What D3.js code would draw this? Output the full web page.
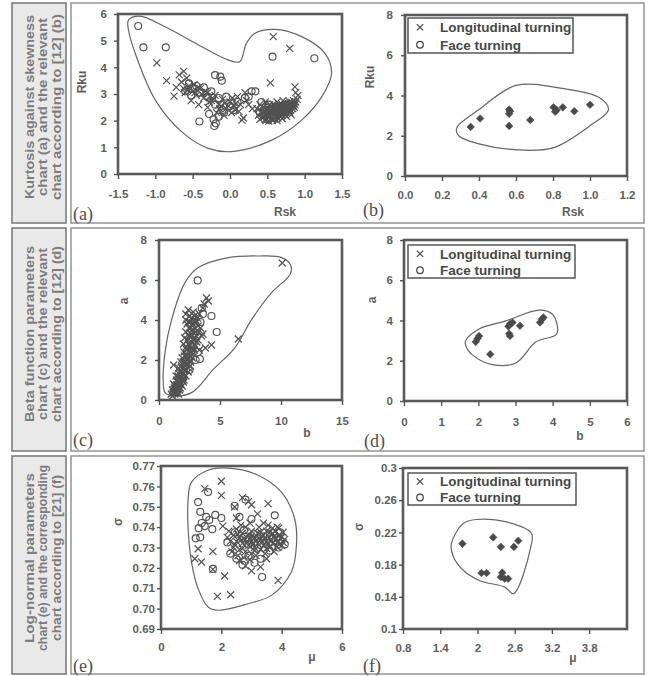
<!DOCTYPE html>
<html><head><meta charset="utf-8">
<script src="https://cdn.jsdelivr.net/npm/d3@7"></script>
<style>
body{margin:0;background:#fff;}
svg{display:block;font-family:"Liberation Sans",Arial,sans-serif;}
</style></head><body>
<svg id="c" width="648" height="676"></svg>
<script>
// ---------- DATA ----------
const rowLabels = [
  ["Kurtosis against skewness","chart (a) and the relevant","chart according to [12] (b)"],
  ["Beta function parameters","chart (c) and the relevant","chart according to [12] (d)"],
  ["Log-normal parameters","chart (e)  and the corresponding","chart according to [21] (f)"]
];
const legendLabels = ["Longitudinal turning","Face turning"];

// (a) Rsk, Rku
const aCross = [[0.58,5.15],[0.80,4.71],[-0.98,4.17],[0.54,3.42],[0.87,3.27],[0.91,2.95],[0.88,3.05],
 [-0.85,3.5],[-0.62,3.85],[-0.68,3.72],[-0.58,3.6],[-0.75,2.92],[-0.72,3.25],[-0.55,3.3],[-0.5,3.1],[-0.45,2.95],[-0.4,3.2],[-0.35,2.85],[-0.3,3.05],[-0.25,2.75],[-0.2,2.95],[-0.15,2.6],[-0.1,2.8],[-0.05,2.45],[0.0,2.7],[0.05,2.55],[0.1,2.9],[0.12,2.35],[0.18,2.1],[0.2,3.05],[0.25,2.6],[0.16,2.02],[-0.52,2.75],[-0.42,2.6],[-0.3,2.5],[-0.18,2.3],[-0.08,2.2],[0.02,2.3],[-0.6,3.05],[-0.48,3.35],[-0.38,3.0],[-0.28,2.7],[-0.12,2.55],[0.08,2.65],[0.3,2.45],[-0.62,3.2],[-0.65,3.45],
 [-0.57,3.15],[-0.47,3.05],[-0.43,3.25],[-0.33,3.1],[-0.27,2.9],[-0.22,2.8],[-0.07,2.65],[0.03,2.85],[0.07,2.4],[0.14,2.6],[-0.02,2.55],[-0.14,2.45],[0.22,2.75],
 [0.38,2.2],[0.4,2.05],[0.42,2.35],[0.45,2.5],[0.46,2.15],[0.48,2.0],[0.5,2.4],[0.52,2.25],[0.53,2.6],[0.55,2.1],[0.56,2.45],[0.58,2.3],[0.6,2.55],[0.6,2.15],[0.62,2.4],[0.63,2.7],[0.65,2.25],[0.66,2.5],[0.68,2.35],[0.7,2.6],[0.7,2.2],[0.72,2.45],[0.74,2.65],[0.75,2.3],[0.77,2.55],[0.78,2.4],[0.8,2.7],[0.8,2.5],[0.82,2.6],[0.84,2.45],[0.85,2.75],[0.87,2.6],[0.9,2.8],[0.44,2.3],[0.5,2.15],[0.54,2.35],[0.57,2.0],[0.61,2.3],[0.64,2.1],[0.67,2.6],[0.69,2.45],[0.73,2.3],[0.76,2.5],[0.79,2.35],[0.83,2.55],[0.36,2.45],[0.4,2.6],[0.47,2.7],[0.52,1.98],[0.58,2.62],[0.65,2.4],[0.71,2.75],[0.78,2.65],[0.86,2.5],[0.5,2.5],[0.55,2.55],[0.62,2.2],[0.68,2.15],[0.74,2.4],[0.8,2.3],
 [0.46,2.35],[0.49,2.28],[0.51,2.45],[0.53,2.18],[0.55,2.3],[0.57,2.42],[0.59,2.22],[0.61,2.48],[0.63,2.32],[0.64,2.55],[0.66,2.18],[0.67,2.42],[0.69,2.28],[0.71,2.52],[0.72,2.36],[0.74,2.22],[0.75,2.58],[0.77,2.45],[0.79,2.62],[0.81,2.4],[0.83,2.68],[0.85,2.55],[0.43,2.12],[0.47,2.05],[0.59,2.05],[0.63,2.0],[0.7,2.08],[0.76,2.15],[0.82,2.22],[0.88,2.7]];
const aCircle = [[-1.23,5.55],[-1.16,4.75],[-0.86,4.75],[0.57,4.4],[1.13,4.34],[-0.2,3.71],[-0.13,3.65],[-0.11,3.5],[0.29,3.1],[0.34,3.1],[-0.41,1.97],[-0.21,1.8],[-0.19,1.9],
 [-0.55,3.4],[-0.5,3.2],[-0.45,3.3],[-0.4,3.05],[-0.35,3.25],[-0.3,2.9],[-0.25,3.1],[-0.6,3.1],[-0.52,2.95],[-0.2,2.6],[-0.15,2.85],[-0.1,2.4],[-0.05,2.9],[0.0,2.55],[0.1,2.7],[0.2,2.85],[-0.28,2.25],[-0.22,2.05],[-0.15,2.15],[-0.08,2.3],[0.05,2.4],[0.25,2.9],[0.42,2.7],[0.48,2.2],[0.55,2.4],[0.62,2.5],[0.7,2.35],[0.75,2.6],[0.8,2.45],[0.6,2.1],[0.52,2.6],[0.66,2.3],[0.72,2.5],
 [0.45,2.4],[0.58,2.25],[0.68,2.55],[0.78,2.55],[0.85,2.6],[0.5,2.05],[0.4,2.3]];
const aHull = [[-1.36,5.77],[-1.21,5.92],[-0.87,5.52],[-0.42,4.84],[-0.02,4.27],[0.13,4.21],[0.22,4.9],[0.33,5.27],[0.60,5.42],[0.96,5.15],[1.27,4.53],[1.36,3.78],[1.23,2.90],[0.96,2.02],[0.56,1.27],[0.02,0.84],[-0.29,0.96],[-0.65,1.59],[-1.0,2.77],[-1.27,4.53],[-1.36,5.4]];

// (b)
const bDiamond = [[0.355,2.44],[0.406,2.86],[0.563,2.49],[0.563,3.30],[0.563,3.09],[0.568,3.22],[0.677,2.78],[0.803,3.41],[0.812,3.19],[0.82,3.28],[0.853,3.41],[0.915,3.22],[1.0,3.54]];
const bHull = [[0.28,2.4],[0.4,3.3],[0.6,4.5],[0.85,4.35],[1.05,3.9],[1.1,3.3],[1.0,2.5],[0.8,1.4],[0.6,1.3],[0.4,1.6],[0.29,2.0]];

// (c) b, a
const cCross = [[10.1,6.85],[6.5,3.05],[3.9,5.1],[4.05,4.95],[3.7,4.8],[4.3,2.75],[3.8,2.6],[1.2,1.75],[3.6,4.6],[2.4,4.5],[2.2,4.3],
 [1.0,0.3],[1.1,0.5],[1.2,0.4],[1.3,0.7],[1.4,0.55],[1.5,0.9],[1.5,0.4],[1.6,1.1],[1.6,0.7],[1.7,0.9],[1.7,1.4],[1.8,1.2],[1.8,0.8],[1.9,1.6],[1.9,1.0],[2.0,1.3],[2.0,1.9],[2.1,1.5],[2.1,2.2],[2.2,1.8],[2.2,1.2],[2.3,2.5],[2.3,2.0],[2.4,1.6],[2.4,2.8],[2.5,2.2],[2.5,3.2],[2.6,2.6],[2.6,1.9],[2.7,3.5],[2.7,2.9],[2.8,2.3],[2.8,3.8],[2.9,3.1],[2.9,4.2],[3.0,3.4],[3.0,2.7],[3.1,3.9],[3.2,3.0],[3.3,4.3],[3.4,3.6],[3.5,3.2],[1.3,0.3],[1.1,0.2],[1.45,1.0],[1.65,1.3],[1.85,1.45],[2.05,2.4],[2.15,2.6],[2.35,3.0],[2.45,3.6],[2.55,3.9],[2.65,4.1],[2.2,3.4],[2.3,3.8],[2.0,2.8],[2.1,3.1],[2.6,2.4],[2.75,2.1],[2.9,2.5],[3.1,2.9],[3.3,2.5],[3.6,3.3],[3.2,3.7],[2.4,1.4],[1.9,2.1],[2.2,4.0],[2.8,4.4],[3.0,4.0],[1.2,0.8],[1.4,1.2],[1.6,1.6],[1.8,1.9],
 [1.15,0.35],[1.25,0.6],[1.35,0.45],[1.45,0.75],[1.55,1.2],[1.55,0.5],[1.65,0.85],[1.75,1.15],[1.75,0.6],[1.85,1.7],[1.95,1.25],[2.05,1.6],[2.05,1.0],[2.15,1.9],[2.25,2.2],[2.25,1.5],[2.35,2.6],[2.35,1.8],[2.45,2.1],[2.45,3.2],[2.55,2.7],[2.55,1.7],[2.65,3.3],[2.65,2.2],[2.75,3.7],[2.75,2.6],[2.85,3.0],[2.85,4.0],[2.95,3.6],[3.05,3.2],[3.15,4.1],[3.25,3.4],[2.5,4.2],[2.6,3.6],[2.4,3.9],[1.7,0.5],[1.4,0.35],[1.9,0.7],[2.0,0.9],[1.6,0.3]];
const cCircle = [[3.17,5.98],[4.3,4.2],[4.73,3.4],[3.35,2.05],[3.6,4.3],[2.8,3.3],[3.0,2.0],[2.5,1.5],[1.5,0.6],[1.8,1.0],[2.2,1.7],[3.4,3.9],[2.7,2.7],[3.2,2.4],[1.3,0.5],[2.0,1.1],[2.6,3.0],[3.5,4.6]];
const cHull = [[0.49,0.37],[1.04,0.23],[2.68,0.37],[4.45,1.53],[6.23,2.62],[7.6,4.03],[9.23,5.37],[10.74,6.28],[10.82,6.7],[10.06,7.12],[8.14,7.2],[5.68,7.12],[3.22,6.62],[2.13,5.87],[1.04,4.03],[0.49,2.37],[0.35,0.87]];

// (d)
const dDiamond = [[1.93,2.94],[1.98,3.1],[2.02,3.23],[2.32,2.32],[2.81,3.71],[2.85,3.82],[2.92,3.9],[2.83,3.34],[2.85,3.23],[3.12,3.74],[3.66,3.9],[3.71,4.06],[3.75,4.15]];
const dHull = [[1.66,3.0],[2.02,3.58],[2.74,3.98],[3.64,4.52],[4.0,4.3],[4.11,3.34],[3.55,2.94],[3.01,1.89],[2.38,1.81],[1.84,2.29],[1.66,2.76]];

// (e) mu, sigma
const eCross = [[2.0,0.7625],[2.0,0.7556],[1.45,0.7589],[3.55,0.7515],[2.44,0.7499],[1.72,0.7281],[1.23,0.7294],[1.12,0.7245],[1.34,0.7229],[1.72,0.7193],[2.11,0.716],[1.87,0.706],[2.31,0.7068],[3.88,0.7139],[2.7,0.7545],[2.9,0.7525],[3.0,0.751],[2.05,0.7405],[2.25,0.738],[2.5,0.7445],[3.2,0.7465],[3.4,0.742],[2.6,0.7235],[2.8,0.721],[3.0,0.7185],[3.3,0.7205],[3.5,0.7245],
 [2.3,0.733],[2.4,0.736],[2.4,0.73],[2.5,0.739],[2.5,0.733],[2.6,0.735],[2.6,0.729],[2.7,0.737],[2.7,0.732],[2.8,0.74],[2.8,0.734],[2.8,0.728],[2.9,0.736],[2.9,0.731],[3.0,0.738],[3.0,0.733],[3.0,0.727],[3.1,0.735],[3.1,0.73],[3.2,0.737],[3.2,0.732],[3.3,0.734],[3.3,0.729],[3.4,0.736],[3.4,0.731],[3.5,0.738],[3.5,0.733],[3.6,0.735],[3.6,0.73],[3.7,0.737],[3.7,0.732],[3.8,0.734],[3.8,0.738],[3.9,0.733],[3.9,0.736],[4.0,0.735],[4.0,0.731],[4.1,0.734],[2.2,0.735],[2.35,0.728],[2.55,0.726],[2.75,0.725],[2.95,0.724],[3.15,0.726],[2.65,0.741],[2.95,0.742],[3.25,0.74],[3.55,0.741],[3.85,0.74],[3.75,0.728],[3.45,0.727],
 [2.65,0.7335],[2.75,0.7345],[2.85,0.7325],[2.95,0.7345],[3.05,0.7315],[3.15,0.7335],[3.25,0.7345],[3.35,0.7325],[3.45,0.7345],[3.55,0.7315],[3.65,0.7335],[3.75,0.7355],[3.85,0.7325],[3.95,0.7345],[4.05,0.7325],[3.6,0.7375],[3.3,0.7375],[3.0,0.7355],[2.7,0.7295],[3.1,0.7285],[3.5,0.7295],[3.85,0.7305],[4.05,0.7375],[2.45,0.7315],[2.55,0.7365],[3.9,0.7395],[3.7,0.7395]];
const eCircle = [[1.56,0.7572],[1.23,0.7523],[3.77,0.7458],[3.35,0.7155],[2.44,0.7505],[2.8,0.7535],[1.3,0.7475],[1.5,0.745],[1.35,0.742],[1.6,0.7435],[1.8,0.746],[2.0,0.7445],[1.25,0.7395],[1.45,0.7405],[1.7,0.739],[1.15,0.7345],[1.3,0.735],[1.72,0.7195],[2.3,0.727],[2.5,0.7245],[2.7,0.7215],[2.9,0.726],[3.1,0.7225],[3.3,0.7245],[3.6,0.7285],[3.9,0.73],[4.1,0.7315],[2.6,0.745],[3.0,0.744],[2.2,0.7325],[2.45,0.7375],[2.75,0.7385],[3.1,0.7365],[3.4,0.7355],[3.7,0.7345],[3.95,0.7375],[2.9,0.7315],[3.2,0.7295]];
const eHull = [[1.01,0.7621],[1.56,0.7679],[2.22,0.769],[3.11,0.7662],[3.99,0.7572],[4.43,0.7441],[4.49,0.7311],[4.32,0.718],[3.66,0.7065],[2.89,0.7024],[1.89,0.6992],[1.56,0.7008],[1.23,0.7098],[1.01,0.7229],[0.90,0.7392],[0.90,0.7539]];

// (f)
const fDiamond = [[1.758,0.206],[2.065,0.1696],[2.146,0.1696],[2.253,0.2138],[2.377,0.202],[2.40,0.17],[2.377,0.1646],[2.44,0.1625],[2.495,0.1625],[2.587,0.202],[2.657,0.2096]];
const fHull = [[1.58,0.206],[1.77,0.231],[1.98,0.236],[2.47,0.233],[2.87,0.219],[2.86,0.202],[2.58,0.144],[2.44,0.152],[2.04,0.160],[1.77,0.173],[1.61,0.19]];

// ticks
const aXTicks=[-1.5,-1.0,-0.5,0.0,0.5,1.0,1.5], aYTicks=[0,1,2,3,4,5,6];
const bXTicks=[0,0.2,0.4,0.6,0.8,1.0,1.2], bYTicks=[0,2,4,6,8];
const cXTicks=[0,5,10,15], cYTicks=[0,2,4,6,8];
const dXTicks=[0,1,2,3,4,5,6], dYTicks=[0,2,4,6,8];
const eXTicks=[0,2,4,6], eYTicks=[0.69,0.70,0.71,0.72,0.73,0.74,0.75,0.76,0.77];
const fXTicks=[0.8,1.4,2,2.6,3.2,3.8], fYTicks=[0.1,0.14,0.18,0.22,0.26,0.3];

// ---------- DRAW ----------
const svg = d3.select("#c");
const ink = "#525252";
const txt = "#5e5e5e";
const f1 = v => v.toFixed(1);
const f2 = v => v.toFixed(2);
const fs = v => String(v);

const rows=[[3,223],[228,451],[456,674]];
rows.forEach(r=>{
  svg.append("rect").attr("x",12).attr("y",r[0]).attr("width",54).attr("height",r[1]-r[0])
    .attr("fill","#e9e9e9").attr("stroke","#7c7c7c").attr("stroke-width",1.6);
  svg.append("rect").attr("x",71).attr("y",r[0]).attr("width",573).attr("height",r[1]-r[0])
    .attr("fill","#fff").attr("stroke","#8c8c8c").attr("stroke-width",1.4);
});
const rowCenters=[107,334,558], colX=[29,42.5,56];
const rowLens=[[184,178,186],[176,172,176],[170,186,166]];
rowLabels.forEach((lines,i)=>lines.forEach((t,j)=>{
  svg.append("text").attr("transform",`translate(${colX[j]},${rowCenters[i]}) rotate(-90)`)
    .attr("text-anchor","middle").attr("dy","0.36em").attr("font-weight","bold")
    .attr("font-size",13.5).attr("fill","#7d7d7d")
    .attr("textLength",rowLens[i][j]).attr("lengthAdjust","spacingAndGlyphs").text(t);
}));

function marker(g, pts, x, y, type){
  const sel = g.append("g").selectAll("path").data(pts).join("path")
    .attr("transform",d=>`translate(${x(d[0])},${y(d[1])})`);
  if(type==="x") sel.attr("d","M-3.5,-3.5L3.5,3.5M-3.5,3.5L3.5,-3.5").attr("stroke",ink).attr("stroke-width",1.2).attr("fill","none");
  else if(type==="o") sel.attr("d",d3.arc()({innerRadius:0,outerRadius:3.5,startAngle:0,endAngle:2*Math.PI})).attr("stroke",ink).attr("stroke-width",1.15).attr("fill","none");
  else sel.attr("d","M0,-3.8L3.8,0L0,3.8L-3.8,0Z").attr("fill","#4a4a4a").attr("stroke","#4a4a4a").attr("stroke-width",0.6);
}

function panel(p){
  const x=d3.scaleLinear().domain(p.xd).range([p.l,p.r]);
  const y=d3.scaleLinear().domain(p.yd).range([p.b,p.t]);
  const g=svg.append("g");
  g.append("path").datum(p.hull)
    .attr("d",d3.line().x(d=>x(d[0])).y(d=>y(d[1])).curve(d3.curveCatmullRomClosed.alpha(0.5)))
    .attr("fill","none").attr("stroke","#666").attr("stroke-width",1.2);
  (p.sets||[]).forEach(s=>marker(g,s[0],x,y,s[1]));
  g.append("rect").attr("x",p.l).attr("y",p.t).attr("width",p.r-p.l).attr("height",p.b-p.t)
    .attr("fill","none").attr("stroke","#5a5a5a").attr("stroke-width",2.6);
  const xa=g.append("g").attr("transform",`translate(0,${p.b})`)
    .call(d3.axisBottom(x).tickValues(p.xt).tickFormat(p.xf).tickSize(5).tickSizeOuter(0).tickPadding(p.xpad));
  const ya=g.append("g").attr("transform",`translate(${p.l},0)`)
    .call(d3.axisLeft(y).tickValues(p.yt).tickFormat(p.yf).tickSize(4).tickSizeOuter(0).tickPadding(p.ypad));
  [xa,ya].forEach(a=>{
    a.select(".domain").remove();
    a.selectAll("line").attr("stroke",ink).attr("stroke-width",1.4);
    a.selectAll("text").attr("fill",txt).attr("font-weight","bold").attr("font-size",11.5)
      .attr("font-family","'Liberation Sans',Arial,sans-serif");
  });
  g.append("text").attr("x",p.xl[0]).attr("y",p.xl[1]).attr("text-anchor","middle")
    .attr("font-weight","bold").attr("font-size",12).attr("fill",txt).text(p.xlab);
  g.append("text").attr("transform",`translate(${p.yl[0]},${p.yl[1]}) rotate(-90)`).attr("text-anchor","middle")
    .attr("dy","0.35em").attr("font-weight","bold").attr("font-size",12).attr("fill",txt).text(p.ylab);
  g.append("text").attr("x",p.tag[0]).attr("y",p.tag[1]).attr("font-family","'Liberation Serif','Times New Roman',serif")
    .attr("font-size",18).attr("fill","#4e4e4e").text(p.tagText);
  if(p.legend){
    const L=p.legend;
    g.append("rect").attr("x",L[0]).attr("y",L[1]).attr("width",L[2]).attr("height",L[3])
      .attr("fill","#fff").attr("stroke","#555").attr("stroke-width",1.5);
    const lh=L[3]/2;
    legendLabels.forEach((t,i)=>{
      const cy=L[1]+lh*(i+0.5)+0.5;
      g.append("path").attr("transform",`translate(${L[0]+12},${cy})`)
        .attr("d",i===0?"M-3.2,-3.2L3.2,3.2M-3.2,3.2L3.2,-3.2":d3.arc()({innerRadius:0,outerRadius:3.3,startAngle:0,endAngle:2*Math.PI}))
        .attr("fill","none").attr("stroke","#444").attr("stroke-width",1.2);
      g.append("text").attr("x",L[0]+32).attr("y",cy).attr("dy","0.36em").attr("font-weight","bold")
        .attr("font-size",13.5).attr("fill","#474747").text(t);
    });
  }
}

panel({l:118,r:342,t:14,b:174,xd:[-1.5,1.5],yd:[0,6],xt:aXTicks,yt:aYTicks,xf:f1,yf:fs,xpad:11,ypad:7,
  hull:aHull,sets:[[aCircle,"o"],[aCross,"x"]],xlab:"Rsk",xl:[285,216],ylab:"Rku",yl:[82,82],tag:[73,220],tagText:"(a)"});
panel({l:405,r:627,t:15,b:176,xd:[0,1.2],yd:[0,8],xt:bXTicks,yt:bYTicks,xf:f1,yf:fs,xpad:10,ypad:8,
  hull:bHull,sets:[[bDiamond,"d"]],xlab:"Rsk",xl:[573,216],ylab:"Rku",yl:[370,77],tag:[363,216],tagText:"(b)",legend:[408,18,165,35]});
panel({l:159,r:342,t:240,b:400,xd:[0,15],yd:[0,8],xt:cXTicks,yt:cYTicks,xf:fs,yf:fs,xpad:12,ypad:8,
  hull:cHull,sets:[[cCircle,"o"],[cCross,"x"]],xlab:"b",xl:[307,437],ylab:"a",yl:[124,301],tag:[73,446],tagText:"(c)"});
panel({l:404,r:627,t:240,b:401,xd:[0,6],yd:[0,8],xt:dXTicks,yt:dYTicks,xf:fs,yf:fs,xpad:12,ypad:7,
  hull:dHull,sets:[[dDiamond,"d"]],xlab:"b",xl:[580,440],ylab:"a",yl:[372,300],tag:[364,447],tagText:"(d)",legend:[408,245,167,33]});
panel({l:161,r:342,t:466,b:629,xd:[0,6],yd:[0.69,0.77],xt:eXTicks,yt:eYTicks,xf:fs,yf:f2,xpad:9,ypad:2,
  hull:eHull,sets:[[eCircle,"o"],[eCross,"x"]],xlab:"\u03bc",xl:[312,661],ylab:"\u03c3",yl:[118,522],tag:[73,672],tagText:"(e)"});
panel({l:403,r:627,t:468,b:629,xd:[0.8,4.41],yd:[0.1,0.3],xt:fXTicks,yt:fYTicks,xf:fs,yf:fs,xpad:10,ypad:2,
  hull:fHull,sets:[[fDiamond,"d"]],xlab:"\u03bc",xl:[573,662],ylab:"\u03c3",yl:[359,527],tag:[363,672],tagText:"(f)",legend:[408,473,168,32]});
</script>
</body></html>
